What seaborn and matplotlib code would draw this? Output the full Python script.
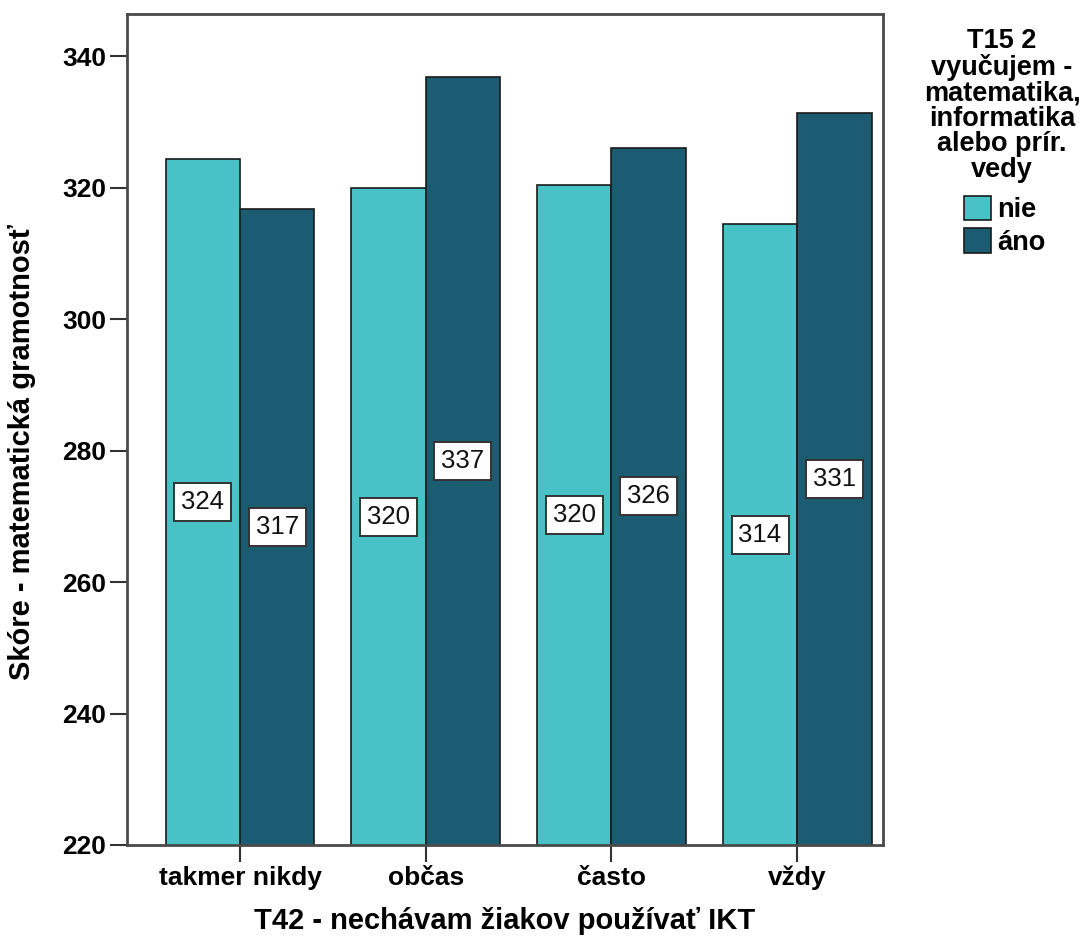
import matplotlib
matplotlib.use("Agg")
import matplotlib.pyplot as plt
import pandas as pd
import seaborn as sns

# data
categories = ["takmer nikdy", "občas", "často", "vždy"]
groups = ["nie", "áno"]
nie_values = [324.4, 319.9, 320.4, 314.4]
ano_values = [316.8, 336.8, 326.1, 331.3]
y_ticks = [220, 240, 260, 280, 300, 320, 340]

legend_title = "T15 2\nvyučujem -\nmatematika,\ninformatika\nalebo prír.\nvedy"
x_label = "T42 - nechávam žiakov používať IKT"
y_label = "Skóre - matematická gramotnosť"

colors = {"nie": "#48C2C6", "áno": "#1C5C73"}

df = pd.DataFrame({
    "cat": categories * 2,
    "group": ["nie"] * len(categories) + ["áno"] * len(categories),
    "score": nie_values + ano_values,
})

sns.set_style("white")
plt.rcParams["font.family"] = ["Liberation Sans", "DejaVu Sans"]
plt.rcParams["text.color"] = "black"
plt.rcParams["axes.labelcolor"] = "black"
plt.rcParams["xtick.color"] = "black"
plt.rcParams["ytick.color"] = "black"

fig = plt.figure(figsize=(10.83, 9.42), dpi=100)
ax = fig.add_axes([0.117, 0.103, 0.698, 0.882])

sns.barplot(
    data=df, x="cat", y="score", hue="group", order=categories,
    hue_order=groups, palette=colors, saturation=1, edgecolor="#1a1a1a",
    linewidth=1.2, width=0.8, errorbar=None, ax=ax, legend=False,
)

ymin = 220
ax.set_ylim(ymin, 346.4)
ax.set_xlim(-0.61, 3.46)
ax.set_yticks(y_ticks)

# value labels centred in the visible part of each bar
for container in ax.containers:
    for patch in container:
        h = patch.get_height()
        xc = patch.get_x() + patch.get_width() / 2
        yc = (ymin + h) / 2
        ax.text(
            xc, yc, f"{h:.0f}", ha="center", va="center", fontsize=18.5,
            color="#111111",
            bbox=dict(boxstyle="square,pad=0.27", facecolor="white",
                      edgecolor="#333333", linewidth=1.4),
        )

for side in ["left", "right", "top", "bottom"]:
    ax.spines[side].set_visible(True)
    ax.spines[side].set_color("#4a4a4a")
    ax.spines[side].set_linewidth(2)

ax.tick_params(axis="both", direction="out", length=12, width=1.5,
               color="#333333", labelsize=19, pad=3,
               bottom=True, left=True)
for lbl in ax.get_xticklabels() + ax.get_yticklabels():
    lbl.set_fontweight("bold")

ax.set_xlabel(x_label, fontsize=21, fontweight="bold", labelpad=12)
ax.set_ylabel(y_label, fontsize=21, fontweight="bold")
ax.yaxis.set_label_coords(-0.12, 0.473)

# legend: centred title plus two patch entries
fig.text(1002 / 1083, 1 - 28 / 942, legend_title, ha="center", va="top",
         fontsize=19.5, fontweight="bold", linespacing=0.98)
handles = [plt.Rectangle((0, 0), 1, 1, facecolor=colors[g],
                         edgecolor="#1a1a1a", linewidth=1.2) for g in groups]
leg = fig.legend(
    handles, groups, loc="upper left", bbox_to_anchor=(950 / 1083, 1 - 182 / 942),
    frameon=False, handlelength=1.0, handleheight=1.0, handletextpad=0.25,
    labelspacing=0.2, borderpad=0, prop={"size": 19.5, "weight": "bold"},
)

fig.savefig("out.png", dpi=100)
plt.close(fig)
